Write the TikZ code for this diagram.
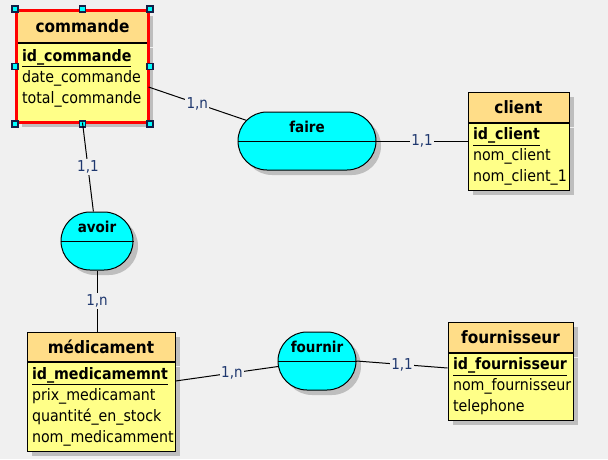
\documentclass[tikz,border=0pt]{standalone}
\usepackage{fontspec}
\setmainfont{DejaVu Sans Condensed}
\usetikzlibrary{positioning, fit, shapes.misc, shadows}

\definecolor{fond}{RGB}{240,240,240}
\definecolor{entete}{RGB}{255,221,136}
\definecolor{corps}{RGB}{255,255,136}
\definecolor{ombre}{RGB}{190,190,190}
\definecolor{turquoise}{RGB}{0,255,255}
\definecolor{carte}{RGB}{30,55,110}
\definecolor{bordpoignee}{RGB}{20,30,70}

\tikzset{
	ombree/.style={drop shadow={shadow xshift=5pt, shadow yshift=-5pt, fill=ombre, opacity=1}},
	titre entite/.style={draw, fill=entete, ombree, inner sep=0pt, font=\fontsize{17}{20}\selectfont\bfseries},
	attributs/.style={draw, fill=corps, ombree, align=left, inner xsep=5pt, inner ysep=0pt, font=\fontsize{15.8}{21}\selectfont},
	asso/.style={draw, fill=turquoise, rounded rectangle, ombree, minimum height=58pt, inner sep=0pt},
	nom asso/.style={inner sep=0pt, font=\fontsize{15}{18}\selectfont\bfseries},
	carte/.style={fill=fond, text=carte, inner sep=1.5pt, font=\fontsize{15}{18}\selectfont},
	poignee/.style={draw=bordpoignee, fill=turquoise, line width=1.5pt, minimum size=6pt, inner sep=0pt}
}

\begin{document}
\begin{tikzpicture}[x=1pt, y=-1pt, line width=1pt]

	\fill[fond] (0,0) rectangle (608,459);
	\useasboundingbox (0,0) rectangle (608,459);

	\node[titre entite, minimum width=131pt, minimum height=31pt] (commande) at (82.5,26.5) {commande};
	\node[attributs, text width=121pt, minimum height=79pt, below=0pt of commande] (commande-att)
		{\underline{\textbf{id\_commande}}\\date\_commande\\total\_commande\\[-9pt]~};

	\node[titre entite, minimum width=101pt, minimum height=30pt] (client) at (518.5,107) {client};
	\node[attributs, text width=91pt, minimum height=67pt, below=0pt of client] (client-att)
		{\underline{\textbf{id\_client}}\\nom\_client\\nom\_client\_1};

	\node[titre entite, minimum width=148pt, minimum height=29pt] (medicament) at (101,346.5) {médicament};
	\node[attributs, text width=138pt, minimum height=89pt, below=0pt of medicament] (medicament-att)
		{\underline{\textbf{id\_medicamemnt}}\\prix\_medicamant\\quantité\_en\_stock\\nom\_medicamment};

	\node[titre entite, minimum width=125pt, minimum height=30pt] (fournisseur) at (510.5,337) {fournisseur};
	\node[attributs, text width=115pt, minimum height=67pt, below=0pt of fournisseur] (fournisseur-att)
		{\underline{\textbf{id\_fournisseur}}\\nom\_fournisseur\\telephone};

	\foreach \n/\x/\y/\w in {faire/307/141/138, avoir/97/241/72, fournir/317/361/78} {
		\node[asso, minimum width=\w pt] (\n) at (\x,\y) {};
		\draw (\n.west) -- (\n.east);
		\node[nom asso] (\n-nom) at ([yshift=14pt]\n.center) {\n};
	}

	\node[draw=red, line width=3pt, inner sep=0pt, fit=(commande)(commande-att)] (commande-cadre) {};
	\foreach \a in {north west, north, north east, east, south east, south, south west, west}
		\node[poignee] (poignee-\a) at (commande-cadre.\a) {};

	\draw ([yshift=-4.5pt]commande-att.east) -- (faire) node[carte, midway] {1,n};
	\draw (faire.east) -- (faire.east -| client-att.west) node[carte, midway] {1,1};
	\draw (commande-att.south) -- (avoir) node[carte, midway] {1,1};
	\draw (avoir.south) -- (avoir.south |- medicament.north) node[carte, midway] {1,n};
	\draw ([yshift=25.5pt]medicament-att.east) -- (fournir) node[carte, pos=0.55] {1,n};
	\draw (fournir.east) -- ([yshift=18.5pt]fournisseur-att.west) node[carte, midway] {1,1};

\end{tikzpicture}
\end{document}
